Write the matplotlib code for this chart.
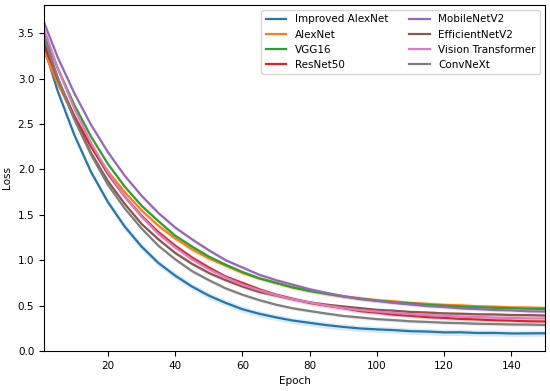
import matplotlib.pyplot as plt

epochs = [1, 5, 10, 15, 20, 25, 30, 35, 40, 45, 50, 55, 60, 65, 70, 75, 80,
          85, 90, 95, 100, 105, 110, 115, 120, 125, 130, 135, 140, 145, 150]

improved_alexnet = [3.35, 2.87, 2.38, 1.97, 1.64, 1.37, 1.15, 0.97, 0.83, 0.71, 0.61,
                    0.53, 0.46, 0.41, 0.37, 0.335, 0.31, 0.285, 0.265, 0.248, 0.238,
                    0.230, 0.218, 0.214, 0.205, 0.206, 0.198, 0.199, 0.193, 0.194, 0.195]
alexnet = [3.30, 2.95, 2.57, 2.25, 1.98, 1.75, 1.55, 1.38, 1.24, 1.12, 1.02,
           0.94, 0.86, 0.80, 0.75, 0.70, 0.665, 0.63, 0.60, 0.582, 0.56,
           0.547, 0.53, 0.52, 0.508, 0.503, 0.492, 0.489, 0.48, 0.479, 0.474]
vgg16 = [3.50, 3.12, 2.71, 2.36, 2.06, 1.81, 1.60, 1.43, 1.27, 1.15, 1.04,
         0.95, 0.87, 0.80, 0.75, 0.70, 0.66, 0.63, 0.602, 0.573, 0.555,
         0.536, 0.524, 0.508, 0.50, 0.489, 0.483, 0.475, 0.472, 0.465, 0.463]
resnet50 = [3.38, 3.00, 2.59, 2.25, 1.95, 1.70, 1.49, 1.31, 1.16, 1.03, 0.92,
            0.82, 0.75, 0.68, 0.62, 0.575, 0.53, 0.50, 0.472, 0.44, 0.422,
            0.40, 0.388, 0.373, 0.365, 0.353, 0.347, 0.338, 0.334, 0.327, 0.325]
mobilenetv2 = [3.62, 3.24, 2.84, 2.49, 2.19, 1.93, 1.71, 1.52, 1.36, 1.23, 1.11,
               1.00, 0.92, 0.84, 0.78, 0.73, 0.68, 0.64, 0.603, 0.575, 0.552,
               0.53, 0.512, 0.494, 0.484, 0.469, 0.461, 0.451, 0.447, 0.437, 0.434]
efficientnetv2 = [3.44, 3.01, 2.56, 2.18, 1.87, 1.62, 1.40, 1.23, 1.08, 0.96, 0.86,
                  0.78, 0.71, 0.65, 0.61, 0.57, 0.535, 0.51, 0.49, 0.472, 0.453,
                  0.444, 0.43, 0.424, 0.414, 0.41, 0.404, 0.402, 0.396, 0.395, 0.391]
vision_transformer = [3.55, 3.12, 2.67, 2.29, 1.97, 1.70, 1.48, 1.29, 1.14, 1.01, 0.90,
                      0.81, 0.73, 0.67, 0.615, 0.57, 0.535, 0.50, 0.472, 0.45, 0.435,
                      0.418, 0.407, 0.395, 0.388, 0.378, 0.374, 0.367, 0.364, 0.359, 0.358]
convnext = [3.47, 3.02, 2.55, 2.16, 1.83, 1.57, 1.35, 1.16, 1.01, 0.88, 0.78,
            0.69, 0.62, 0.56, 0.51, 0.47, 0.44, 0.412, 0.386, 0.369, 0.351,
            0.34, 0.327, 0.32, 0.311, 0.307, 0.30, 0.297, 0.292, 0.291, 0.287]

models = ['Improved AlexNet', 'AlexNet', 'VGG16', 'ResNet50',
          'MobileNetV2', 'EfficientNetV2', 'Vision Transformer', 'ConvNeXt']
series = [improved_alexnet, alexnet, vgg16, resnet50,
          mobilenetv2, efficientnetv2, vision_transformer, convnext]
# half width of the light shaded band around each curve
band = [0.035, 0.025, 0.02, 0.02, 0.02, 0.02, 0.03, 0.02]

colors = ['#1f77b4', '#ff7f0e', '#2ca02c', '#d62728',
          '#9467bd', '#8c564b', '#e377c2', '#7f7f7f']

plt.rcParams['font.size'] = 7.5

fig = plt.figure(figsize=(5.5, 3.91), dpi=100)
ax = fig.add_axes([0.08, 0.1023, 0.911, 0.885])

for name, vals, b, c in zip(models, series, band, colors):
    lo = [v - b for v in vals]
    hi = [v + b for v in vals]
    ax.fill_between(epochs, lo, hi, color=c, alpha=0.15, linewidth=0)
    ax.plot(epochs, vals, color=c, linewidth=1.6, label=name)

ax.set_xlim(1, 150)
ax.set_ylim(0, 3.81)
ax.set_xticks([20, 40, 60, 80, 100, 120, 140])
ax.set_yticks([0.0, 0.5, 1.0, 1.5, 2.0, 2.5, 3.0, 3.5])
ax.set_xlabel('Epoch')
ax.set_ylabel('Loss')
ax.legend(loc='upper right', ncol=2, fontsize=7.5)

fig.savefig('out.png', dpi=100)
